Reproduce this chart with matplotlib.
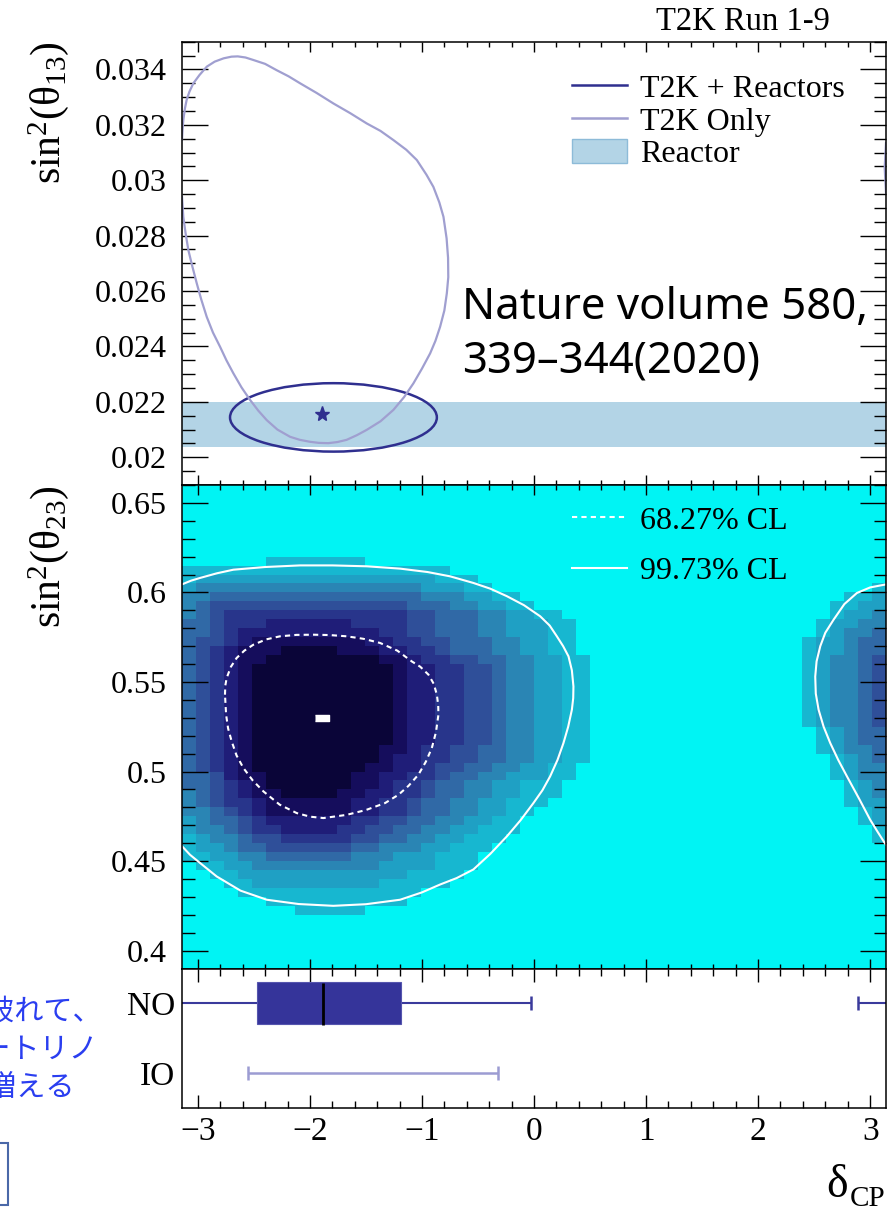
import numpy as np
import matplotlib
matplotlib.use("Agg")
import matplotlib.pyplot as plt
from matplotlib.colors import ListedColormap
from matplotlib.patches import Ellipse, Rectangle, Patch
from matplotlib.lines import Line2D
from matplotlib.ticker import MultipleLocator, FuncFormatter

plt.rcParams["font.family"] = ["Liberation Serif", "DejaVu Serif"]
plt.rcParams["mathtext.fontset"] = "custom"
plt.rcParams["mathtext.rm"] = "Liberation Serif"
plt.rcParams["mathtext.it"] = "Liberation Serif:italic"
plt.rcParams["mathtext.bf"] = "Liberation Serif:bold"

PI = np.pi

# ---------------- top panel: sin^2(theta13) vs delta_CP ----------------
reactor_band = (0.02038, 0.02200)

# T2K only contour (clockwise from the left edge)
t2k_only_dcp = [-3.1416, -3.137, -3.13, -3.115, -3.10, -3.075, -3.04, -2.985, -2.92, -2.85,
                -2.77, -2.70, -2.644, -2.575, -2.505, -2.40, -2.296, -2.19, -2.088, -1.94,
                -1.79, -1.64, -1.493, -1.37, -1.255, -1.14, -1.046, -0.96, -0.898, -0.845,
                -0.808, -0.78, -0.767, -0.765, -0.778, -0.80, -0.838, -0.88, -0.927, -1.0,
                -1.076, -1.16, -1.255, -1.37, -1.493, -1.58, -1.672, -1.755, -1.836, -1.92,
                -2.0, -2.09, -2.177, -2.29, -2.385, -2.46, -2.534, -2.61, -2.683, -2.745,
                -2.802, -2.865, -2.921, -2.97, -3.01, -3.05, -3.085, -3.11, -3.13, -3.1416]
t2k_only_s13 = [0.03147, 0.0318, 0.03217, 0.0326, 0.0329, 0.0332, 0.0335, 0.0338, 0.0341, 0.03428,
                0.0344, 0.03446, 0.03447, 0.03443, 0.03434, 0.0342, 0.03397, 0.03375, 0.0335, 0.03315,
                0.03277, 0.03242, 0.03205, 0.03178, 0.03145, 0.0311, 0.03073, 0.0302, 0.02976, 0.0292,
                0.02868, 0.0279, 0.0272, 0.0265, 0.02592, 0.0253, 0.02471, 0.0242, 0.02375, 0.0232,
                0.02267, 0.02217, 0.02171, 0.0213, 0.02099, 0.0208, 0.02063, 0.02055, 0.02051, 0.02052,
                0.02056, 0.02063, 0.02074, 0.021, 0.02134, 0.02168, 0.02207, 0.02252, 0.02303, 0.0235,
                0.02399, 0.0245, 0.02507, 0.0257, 0.02628, 0.0269, 0.02748, 0.0281, 0.02868, 0.0294]
# the bit that wraps round to +pi
t2k_only_wrap_dcp = [3.1416, 3.13, 3.1416]
t2k_only_wrap_s13 = [0.03134, 0.03045, 0.02954]

# T2K + reactors contour (ellipse) and best fit
comb_center = (-1.79, 0.02144)
comb_size = (1.846, 0.00247)
comb_best = (-1.894, 0.02155)

# ---------------- middle panel: sin^2(theta23) vs delta_CP ----------------
s23_range = (0.39, 0.66)
# posterior shading level per bin (0 = empty .. 9 = darkest), 50 dCP bins x 54 s23 bins,
# rows listed from top (0.66) to bottom (0.39)
s23_bins = [
    "00000 00000 00000 00000 00000 00000 00000 00000 00000 00000",
    "00000 00000 00000 00000 00000 00000 00000 00000 00000 00000",
    "00000 00000 00000 00000 00000 00000 00000 00000 00000 00000",
    "00000 00000 00000 00000 00000 00000 00000 00000 00000 00000",
    "00000 00000 00000 00000 00000 00000 00000 00000 00000 00000",
    "00000 00000 00000 00000 00000 00000 00000 00000 00000 00000",
    "00000 00000 00000 00000 00000 00000 00000 00000 00000 00000",
    "00000 00000 00000 00000 00000 00000 00000 00000 00000 00000",
    "00000 01111 11100 00000 00000 00000 00000 00000 00000 00000",
    "11111 11111 11111 11110 00000 00000 00000 00000 00000 00000",
    "12222 22222 22222 22211 10000 00000 00000 00000 00000 00000",
    "23333 33333 33333 33222 11000 00000 00000 00000 00000 00001",
    "33444 44444 44444 44333 22110 00000 00000 00000 00000 00112",
    "34555 55555 55555 54443 32211 00000 00000 00000 00000 01122",
    "34566 66666 66666 65544 43322 11000 00000 00000 00000 01223",
    "44566 67777 77666 65544 43322 21100 00000 00000 00000 12233",
    "44567 77777 77776 65544 43322 21100 00000 00000 00000 12334",
    "45567 88888 88877 66554 44332 21100 00000 00000 00001 22344",
    "45678 88999 98887 76654 44332 21100 00000 00000 00001 22344",
    "45678 89999 99998 87665 54433 22110 00000 00000 00001 23345",
    "45678 99999 99999 87766 55433 22110 00000 00000 00001 23345",
    "45678 99999 99999 87766 55433 22110 00000 00000 00001 23345",
    "45678 99999 99999 87766 55433 22110 00000 00000 00001 23345",
    "45678 99999 99999 87766 55433 22110 00000 00000 00001 23345",
    "45678 99999 99999 87766 55433 22110 00000 00000 00001 23345",
    "45678 99999 99999 87766 55433 22110 00000 00000 00001 23345",
    "45678 99999 99999 87766 55433 22110 00000 00000 00001 23345",
    "45678 99999 99999 87766 55433 22110 00000 00000 00000 12344",
    "45678 99999 99999 87766 55433 22110 00000 00000 00000 12344",
    "45678 99999 99998 87665 54433 22110 00000 00000 00000 12334",
    "45678 99999 99998 77665 54433 22110 00000 00000 00000 01234",
    "45678 99999 99988 77655 44332 21100 00000 00000 00000 01233",
    "44578 89999 99887 76654 43322 21100 00000 00000 00000 01233",
    "44567 89999 99887 66544 33221 11000 00000 00000 00000 00123",
    "34567 88999 98877 66544 33221 11000 00000 00000 00000 00123",
    "34566 78888 88776 65443 32211 10000 00000 00000 00000 00122",
    "33456 78888 88776 65443 32211 00000 00000 00000 00000 00012",
    "23445 67777 77665 54433 22110 00000 00000 00000 00000 00012",
    "23345 66777 76655 44332 21110 00000 00000 00000 00000 00001",
    "12334 55666 66554 43322 11100 00000 00000 00000 00000 00001",
    "12234 45555 55443 33221 11000 00000 00000 00000 00000 00000",
    "11223 34444 44333 22211 10000 00000 00000 00000 00000 00000",
    "01122 33333 33332 22211 10000 00000 00000 00000 00000 00000",
    "00112 22222 22222 21111 00000 00000 00000 00000 00000 00000",
    "00011 22222 22221 11110 00000 00000 00000 00000 00000 00000",
    "00001 11111 11111 11000 00000 00000 00000 00000 00000 00000",
    "00000 01111 11111 10000 00000 00000 00000 00000 00000 00000",
    "00000 00011 11100 00000 00000 00000 00000 00000 00000 00000",
    "00000 00000 00000 00000 00000 00000 00000 00000 00000 00000",
    "00000 00000 00000 00000 00000 00000 00000 00000 00000 00000",
    "00000 00000 00000 00000 00000 00000 00000 00000 00000 00000",
    "00000 00000 00000 00000 00000 00000 00000 00000 00000 00000",
    "00000 00000 00000 00000 00000 00000 00000 00000 00000 00000",
    "00000 00000 00000 00000 00000 00000 00000 00000 00000 00000",
]
level_colors = ["#00f4f4", "#17b7d0", "#1fa0c4", "#2a85b4", "#3069a6",
                "#2f4f99", "#28358b", "#1f1d78", "#150d5c", "#0a0538"]

# 68.27% CL contour
cl68_dcp = [-2.758, -2.755, -2.743, -2.705, -2.654, -2.585, -2.505, -2.39, -2.267, -2.12,
            -1.969, -1.82, -1.672, -1.52, -1.374, -1.22, -1.091, -1.015, -0.942, -0.895,
            -0.867, -0.855, -0.853, -0.875, -0.912, -0.965, -1.032, -1.12, -1.21, -1.329,
            -1.5, -1.672, -1.88, -2.0, -2.118, -2.27, -2.415, -2.51, -2.594, -2.655,
            -2.698, -2.73, -2.748, -2.758]
cl68_s23 = [0.5429, 0.548, 0.5522, 0.5585, 0.5634, 0.5675, 0.5708, 0.5738, 0.5755, 0.5763,
            0.5764, 0.5762, 0.5755, 0.5741, 0.5718, 0.5675, 0.5615, 0.5585, 0.5541, 0.549,
            0.5429, 0.537, 0.5317, 0.522, 0.5131, 0.5055, 0.4982, 0.492, 0.487, 0.4824,
            0.4785, 0.4758, 0.4740, 0.4748, 0.4768, 0.4815, 0.4889, 0.495, 0.502, 0.509,
            0.5168, 0.524, 0.5317, 0.5429]
# 99.73% CL contour, main island and the piece wrapping round at +pi
cl99_dcp = [-3.1416, -3.06, -2.98, -2.83, -2.683, -2.4, -2.088, -1.8, -1.493, -1.195,
            -0.95, -0.749, -0.541, -0.39, -0.242, -0.09, 0.055, 0.14, 0.204, 0.26,
            0.308, 0.338, 0.352, 0.35, 0.338, 0.305, 0.263, 0.21, 0.144, 0.075,
            -0.005, -0.12, -0.242, -0.39, -0.541, -0.69, -0.838, -1.0, -1.195, -1.5,
            -1.791, -2.1, -2.385, -2.62, -2.832, -2.98, -3.07, -3.1416]
cl99_s23 = [0.6045, 0.6066, 0.6081, 0.6107, 0.6127, 0.6142, 0.6151, 0.6151, 0.6146, 0.6133,
            0.6114, 0.609, 0.6053, 0.6021, 0.5979, 0.5929, 0.5867, 0.5815, 0.5755, 0.5700,
            0.5643, 0.5565, 0.5475, 0.541, 0.5345, 0.525, 0.5159, 0.5065, 0.4973, 0.4895,
            0.4824, 0.4728, 0.4638, 0.4540, 0.4453, 0.4405, 0.4369, 0.4325, 0.4284, 0.4259,
            0.4250, 0.4260, 0.4284, 0.4335, 0.4414, 0.4489, 0.4535, 0.4583]
cl99_wrap_dcp = [3.1416, 3.0, 2.882, 2.77, 2.674, 2.6, 2.555, 2.522, 2.51, 2.515,
                 2.54, 2.585, 2.644, 2.715, 2.793, 2.9, 3.001, 3.07, 3.1416]
cl99_wrap_s23 = [0.6045, 0.6028, 0.5997, 0.5935, 0.5848, 0.5775, 0.57, 0.5615, 0.553, 0.5435,
                 0.5345, 0.525, 0.5159, 0.5065, 0.4973, 0.485, 0.473, 0.466, 0.459]
best_fit = (-1.894, 0.530)

# ---------------- bottom panel: 1D intervals ----------------
no_box = (-2.476, -1.184)
no_median = -1.887
no_ranges = [(-3.1416, -0.03), (2.89, 3.1416)]
io_range = (-2.554, -0.318)

# ---------------- figure ----------------
W, H = 889, 1208
fig = plt.figure(figsize=(W / 100, H / 100), dpi=100)
left, right = 182, 886


def axes_px(top, bottom):
    return fig.add_axes([left / W, 1 - bottom / H, (right - left) / W, (bottom - top) / H])


ax1 = axes_px(41.7, 485)
ax2 = axes_px(485, 968.5)
ax3 = axes_px(968.5, 1108.3)

fmt = FuncFormatter(lambda v, p: f"{v:g}")
for ax in (ax1, ax2, ax3):
    ax.set_xlim(-PI, PI)
    ax.xaxis.set_major_locator(MultipleLocator(1))
    ax.xaxis.set_minor_locator(MultipleLocator(0.2))
    ax.tick_params(which="both", direction="in", top=True, right=True, width=1.0)
    for s in ax.spines.values():
        s.set_linewidth(1.1)

for ax in (ax1, ax2):
    ax.tick_params(axis="x", which="major", length=7, labelbottom=False)
    ax.tick_params(axis="x", which="minor", length=3.5)
    ax.tick_params(axis="y", which="major", length=19, labelsize=23, pad=11)
    ax.tick_params(axis="y", which="minor", length=9)
    ax.yaxis.set_major_formatter(fmt)

# top panel
ax1.set_ylim(0.019, 0.035)
ax1.yaxis.set_major_locator(MultipleLocator(0.002))
ax1.yaxis.set_minor_locator(MultipleLocator(0.0005))
ax1.axhspan(*reactor_band, color="#b3d4e6", lw=0, zorder=0)
ax1.plot(t2k_only_dcp, t2k_only_s13, color="#a09fd0", lw=1.6)
ax1.plot(t2k_only_wrap_dcp, t2k_only_wrap_s13, color="#a09fd0", lw=1.6)
ax1.add_patch(Ellipse(comb_center, comb_size[0], comb_size[1], fill=False,
                      ec="#2f2f8f", lw=1.8))
ax1.plot(*comb_best, marker="*", ms=11, color="#2f2f8f", ls="none")
ax1.set_ylabel(r"$\mathrm{sin}^{2}(\mathrm{θ}_{13})$", fontsize=30, loc="top")
ax1.yaxis.set_label_coords(-0.157, 1.0)
h1 = [Line2D([], [], color="#2f2f8f", lw=1.8),
      Line2D([], [], color="#a09fd0", lw=1.8),
      Patch(fc="#b3d4e6", ec="#8dbbd8")]
ax1.legend(h1, ["T2K + Reactors", "T2K Only", "Reactor"], loc="upper left",
           bbox_to_anchor=(0.5536, 0.927), frameon=False, fontsize=23,
           handlelength=1.72, handletextpad=0.42, labelspacing=0.09,
           borderpad=0, borderaxespad=0, handleheight=0.75)

# middle panel
ax2.set_ylim(*s23_range)
ax2.yaxis.set_major_locator(MultipleLocator(0.05))
ax2.yaxis.set_minor_locator(MultipleLocator(0.01))
levels = np.array([[int(c) for c in r.replace(" ", "")] for r in s23_bins[::-1]])
xedges = np.linspace(-PI, PI, levels.shape[1] + 1)
yedges = np.linspace(s23_range[0], s23_range[1], levels.shape[0] + 1)
ax2.pcolormesh(xedges, yedges, levels, cmap=ListedColormap(level_colors),
               vmin=-0.5, vmax=9.5, shading="flat", antialiased=False, zorder=0)
ax2.plot(cl68_dcp, cl68_s23, color="white", lw=1.5, ls=(0, (2.5, 2)))
ax2.plot(cl99_dcp, cl99_s23, color="white", lw=1.5)
ax2.plot(cl99_wrap_dcp, cl99_wrap_s23, color="white", lw=1.5)
ax2.plot(*best_fit, marker=[(-1, -0.5), (1, -0.5), (1, 0.5), (-1, 0.5)], ms=10,
         color="white", ls="none")
ax2.set_ylabel(r"$\mathrm{sin}^{2}(\mathrm{θ}_{23})$", fontsize=30, loc="top")
ax2.yaxis.set_label_coords(-0.157, 1.0)
h2 = [Line2D([], [], color="white", lw=1.5, ls=(0, (2.5, 2))),
      Line2D([], [], color="white", lw=1.5)]
ax2.legend(h2, ["68.27% CL", "99.73% CL"], loc="upper left",
           bbox_to_anchor=(0.5536, 0.956), frameon=False, fontsize=23,
           handlelength=1.72, handletextpad=0.42, labelspacing=0.67,
           borderpad=0, borderaxespad=0)

# bottom panel
ax3.set_ylim(0, 1)
ax3.set_yticks([0.75, 0.25])
ax3.set_yticklabels(["NO", "IO"])
ax3.tick_params(axis="y", which="both", length=0, labelsize=24, pad=5)
ax3.tick_params(axis="x", which="major", length=9.5, labelsize=24, pad=6)
ax3.tick_params(axis="x", which="minor", length=5)
no_col, io_col = "#3a3a9c", "#9c9cd2"
ax3.barh(0.75, no_box[1] - no_box[0], left=no_box[0], height=0.30,
         color="#35349a", ec="#5555ae", lw=0.8, zorder=2)
for lo, hi in no_ranges:
    ax3.hlines(0.75, lo, hi, color=no_col, lw=1.5, zorder=1)
ax3.vlines([no_ranges[0][1], no_ranges[1][0]], 0.70, 0.80, color=no_col, lw=1.8)
ax3.vlines(no_median, 0.595, 0.897, color="black", lw=2, zorder=3)
ax3.hlines(0.25, *io_range, color=io_col, lw=1.8)
ax3.vlines(io_range, 0.20, 0.30, color=io_col, lw=1.8)
ax3.set_xlabel("δ", fontsize=33, loc="right")
ax3.xaxis.set_label_coords((848 - left) / (right - left), (1108.3 - 1197) / 139.8)
ax3.xaxis.label.set_verticalalignment("baseline")
ax3.text((885 - left) / (right - left), (1108.3 - 1206) / 139.8, "CP", fontsize=21,
         ha="right", va="baseline", transform=ax3.transAxes, clip_on=False)

# slide annotations
fig.text(830 / W, 1 - 30 / H, "T2K Run 1-9", ha="right", va="baseline", fontsize=23.5)
fig.text(461.7 / W, 1 - 373 / H, "Nature volume 580,\n339–344(2020)", ha="left",
         va="baseline", fontsize=31.5, family=["Noto Sans", "DejaVu Sans"], linespacing=1.3)
jp_lines = [("が破れて、", 102, 1011.7), ("ニュートリノ", 98, 1050), ("が増える", 75, 1088)]
for txt, xr, yc in jp_lines:
    fig.text(xr / W, 1 - yc / H, txt, ha="right", va="center", fontsize=21,
             color="#2a3ef0", family=["Noto Sans CJK JP", "DejaVu Sans"])
fig.patches.append(Rectangle((-0.05, 1 - 1205 / H), 0.05 + 8 / W, (1205 - 1143) / H,
                             transform=fig.transFigure, fill=False, ec="#4a68a8", lw=1.5))

fig.savefig("out.png", dpi=100)
